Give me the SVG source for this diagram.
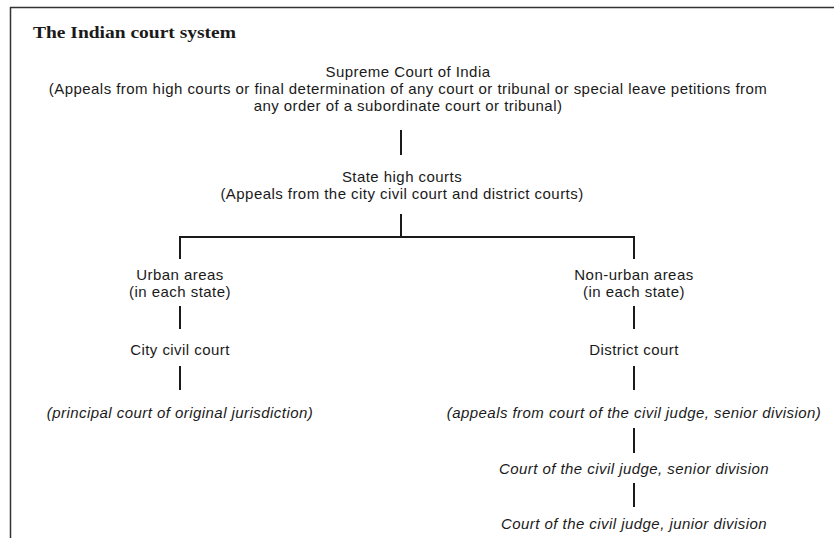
<svg xmlns="http://www.w3.org/2000/svg" width="834" height="538" viewBox="0 0 834 538">
<style>
.t{font-family:"Liberation Sans",Arial,sans-serif;font-size:15px;letter-spacing:0.45px;fill:#1a1a1a;text-anchor:middle}
.i{font-style:italic}
.title{font-family:"Liberation Serif","Times New Roman",serif;font-size:17px;font-weight:bold;fill:#1a1a1a}
.c{stroke:#1a1a1a;stroke-width:2;fill:none}
</style>
<rect width="834" height="538" fill="#fff"/>
<path d="M10.5 538 V7.5 H834" fill="none" stroke="#333" stroke-width="1.5"/>
<text class="title" x="33" y="38" textLength="203" lengthAdjust="spacingAndGlyphs">The Indian court system</text>
<g id="supreme"><text class="t" x="408" y="77">Supreme Court of India</text><text class="t" x="408" y="94">(Appeals from high courts or final determination of any court or tribunal or special leave petitions from</text><text class="t" x="408" y="111">any order of a subordinate court or tribunal)</text></g>
<g id="high"><text class="t" x="402" y="182">State high courts</text><text class="t" x="402" y="199">(Appeals from the city civil court and district courts)</text></g>
<g id="urban"><text class="t" x="180" y="280">Urban areas</text><text class="t" x="180" y="297">(in each state)</text></g>
<g id="city"><text class="t" x="180" y="355">City civil court</text></g>
<g id="principal"><text class="t i" x="180" y="418">(principal court of original jurisdiction)</text></g>
<g id="nonurban"><text class="t" x="634" y="280">Non-urban areas</text><text class="t" x="634" y="297">(in each state)</text></g>
<g id="district"><text class="t" x="634" y="355">District court</text></g>
<g id="appeals"><text class="t i" x="634" y="418">(appeals from court of the civil judge, senior division)</text></g>
<g id="senior"><text class="t i" x="634" y="474">Court of the civil judge, senior division</text></g>
<g id="junior"><text class="t i" x="634" y="529">Court of the civil judge, junior division</text></g>
<g id="connectors" class="c">
<path d="M401 130 V155"/>
<path d="M401 214 V237"/>
<path d="M180 259 V237 H634 V259"/>
<path d="M180 306 V329"/>
<path d="M180 366 V390"/>
<path d="M634 306 V329"/>
<path d="M634 366 V390"/>
<path d="M634 428 V453"/>
<path d="M634 483 V507"/>
</g>
</svg>
